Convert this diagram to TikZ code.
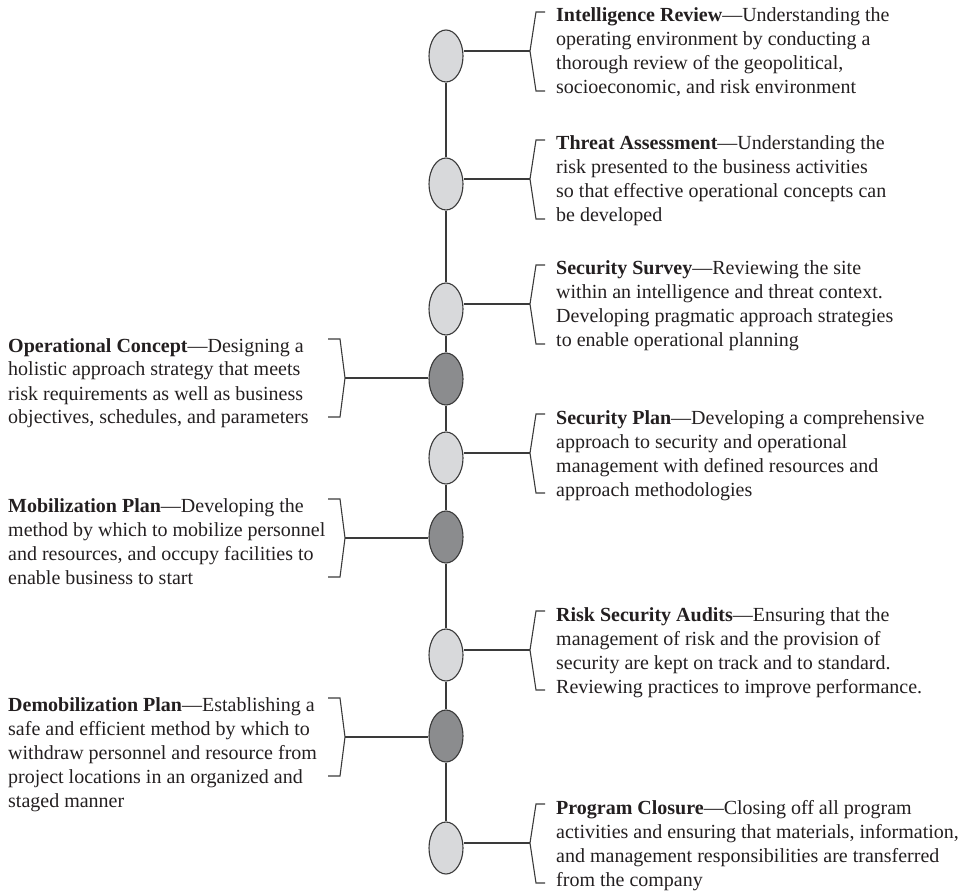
\documentclass[tikz,border=0pt]{standalone}
\usepackage{fontspec}
\setmainfont{Liberation Serif}
\usetikzlibrary{shapes.geometric}
\definecolor{ink}{HTML}{231F20}
\definecolor{rule}{HTML}{3A3A3A}
\definecolor{lightdot}{HTML}{D8D9DB}
\definecolor{darkdot}{HTML}{8B8C8E}
\tikzset{
  dot/.style={ellipse, draw=rule, line width=1.1pt, minimum width=34pt,
    minimum height=52pt, inner sep=0pt},
  lightstage/.style={dot, fill=lightdot},
  darkstage/.style={dot, fill=darkdot},
  % multi-line nodes: the base anchor sits on the baseline of the last line
  desc/.style={anchor=base west, inner sep=0pt, align=left, text=ink,
    font=\fontsize{20}{24}\selectfont},
  link/.style={draw=rule, line width=1.1pt},
  brace/.style={draw=rule, line width=1.1pt, line join=miter},
}
% bracket on the right of the timeline: name, stage, first baseline
\newcommand\rightbrace[3]{%
  \coordinate (#1tip) at (530,#3+29);
  \draw[brace] (545,#3-10) -- (536,#3-10) -- (#1tip) -- (536,#3+69) -- (545,#3+69);
  \draw[link] (#1tip -| #2.east) -- (#1tip);
}
% bracket on the left of the timeline: name, stage, first baseline
\newcommand\leftbrace[3]{%
  \coordinate (#1tip) at (345,#3+26);
  \draw[brace] (328,#3-13) -- (340,#3-13) -- (#1tip) -- (340,#3+65) -- (328,#3+65);
  \draw[link] (#1tip) -- (#1tip -| #2.west);
}
\begin{document}
\begin{tikzpicture}[x=1pt,y=-1pt]
\useasboundingbox (0,0) rectangle (967,893);

% stages along the timeline
\node[lightstage] (e1) at (446,56)  {};
\node[lightstage] (e2) at (446,184) {};
\node[lightstage] (e3) at (446,309) {};
\node[darkstage]  (e4) at (446,379) {};
\node[lightstage] (e5) at (446,458) {};
\node[darkstage]  (e6) at (446,537) {};
\node[lightstage] (e7) at (446,655) {};
\node[darkstage]  (e8) at (446,736) {};
\node[lightstage] (e9) at (446,848) {};

\foreach \a/\b in {e1/e2,e2/e3,e3/e4,e4/e5,e5/e6,e6/e7,e7/e8,e8/e9}
  \draw[link] (\a) -- (\b);

% right-hand descriptions
\rightbrace{ra}{e1}{22}
\node[desc] (ta) at (556,22+72) {\textbf{Intelligence Review}—Understanding the\\
operating environment by conducting a\\
thorough review of the geopolitical,\\
socioeconomic, and risk environment};

\rightbrace{rb}{e2}{150}
\node[desc] (tb) at (556,150+72) {\textbf{Threat Assessment}—Understanding the\\
risk presented to the business activities\\
so that effective operational concepts can\\
be developed};

\rightbrace{rc}{e3}{275}
\node[desc] (tc) at (556,275+72) {\textbf{Security Survey}—Reviewing the site\\
within an intelligence and threat context.\\
Developing pragmatic approach strategies\\
to enable operational planning};

\rightbrace{rd}{e5}{424}
\node[desc] (td) at (556,424+72) {\textbf{Security Plan}—Developing a comprehensive\\
approach to security and operational\\
management with defined resources and\\
approach methodologies};

\rightbrace{re}{e7}{621}
\node[desc] (te) at (556,621+72) {\textbf{Risk Security Audits}—Ensuring that the\\
management of risk and the provision of\\
security are kept on track and to standard.\\
Reviewing practices to improve performance.};

\rightbrace{rf}{e9}{814}
\node[desc] (tf) at (556,814+72) {\textbf{Program Closure}—Closing off all program\\
activities and ensuring that materials, information,\\
and management responsibilities are transferred\\
from the company};

% left-hand descriptions
\leftbrace{la}{e4}{352}
\node[desc] (tg) at (8,352+72) {\textbf{Operational Concept}—Designing a\\
holistic approach strategy that meets\\
risk requirements as well as business\\
objectives, schedules, and parameters};

\leftbrace{lb}{e6}{512}
\node[desc] (th) at (8,512+72) {\textbf{Mobilization Plan}—Developing the\\
method by which to mobilize personnel\\
and resources, and occupy facilities to\\
enable business to start};

\leftbrace{lc}{e8}{711}
\node[desc] (ti) at (8,711+96) {\textbf{Demobilization Plan}—Establishing a\\
safe and efficient method by which to\\
withdraw personnel and resource from\\
project locations in an organized and\\
staged manner};
\end{tikzpicture}
\end{document}
